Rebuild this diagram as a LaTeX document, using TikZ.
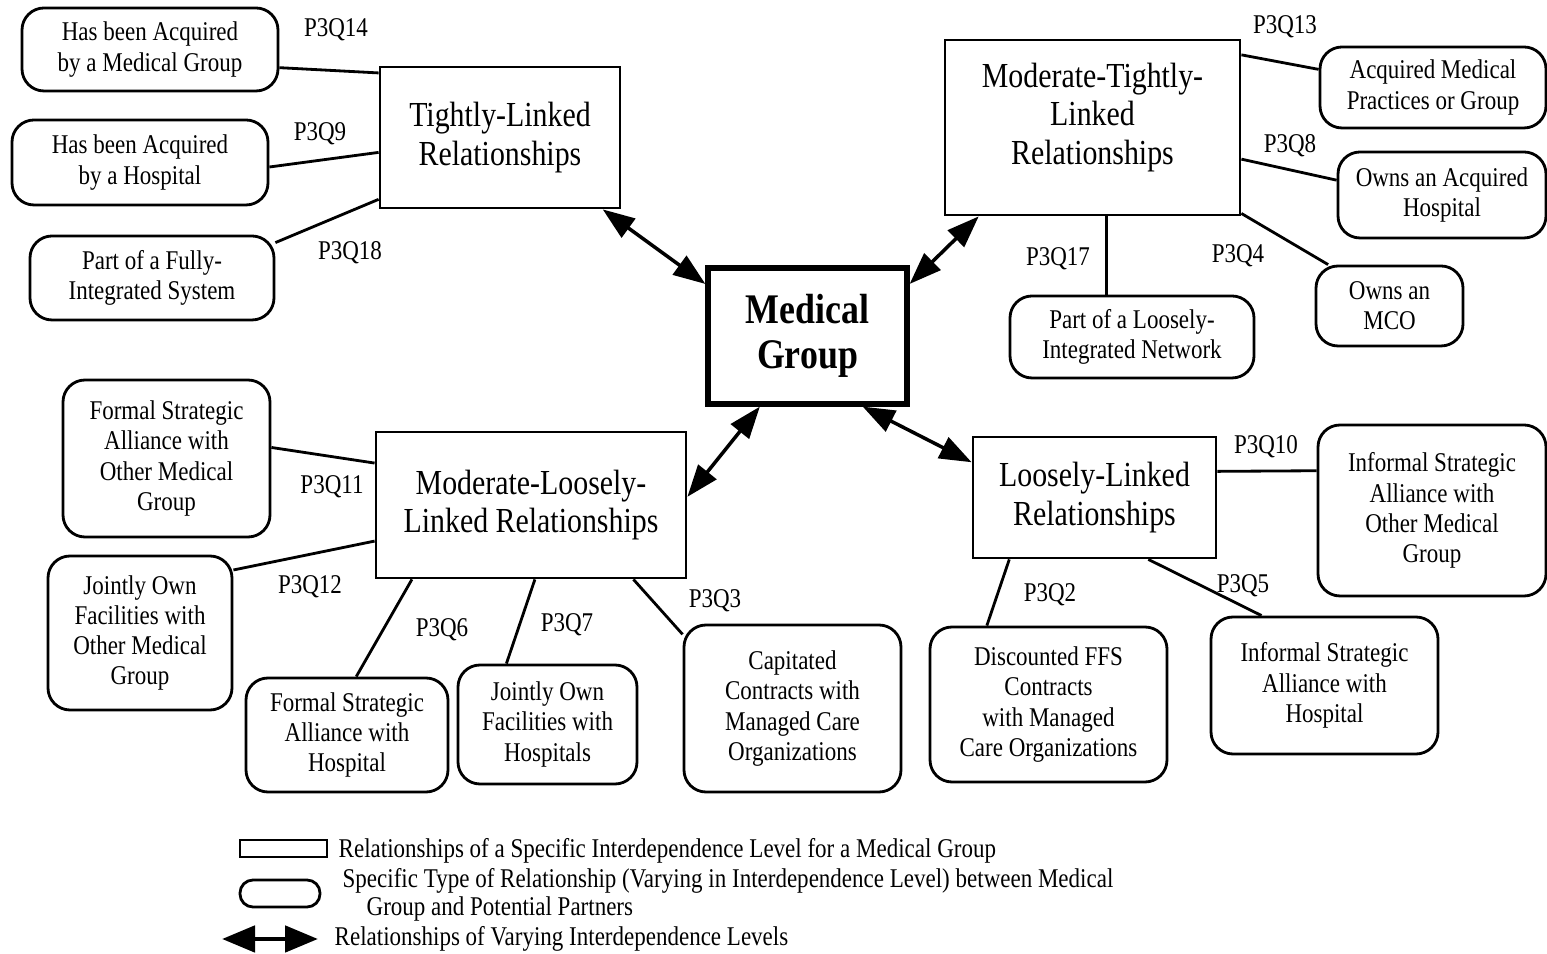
\documentclass[tikz,border=0pt]{standalone}
\usepackage{fontspec}
\setmainfont{Liberation Serif}[FakeStretch=0.85]
\usetikzlibrary{arrows.meta, calc}
\tikzset{
  relbox/.style={draw, line width=0.8pt, align=center, inner sep=0pt, font=\fontsize{10}{11}\selectfont},
  typebox/.style={draw, line width=0.8pt, rounded corners=2.2mm, align=center, inner sep=0pt, font=\fontsize{7.7}{8.6}\selectfont},
  link/.style={line width=0.8pt},
  twoway/.style={{Triangle[length=3.2mm,width=2.3mm]}-{Triangle[length=3.2mm,width=2.3mm]}, line width=1pt},
  qlabel/.style={font=\fontsize{7.7}{8.6}\selectfont, inner sep=0pt},
  legtext/.style={font=\fontsize{7.7}{8}\selectfont, inner sep=0pt, anchor=west}
}

\begin{document}
\begin{tikzpicture}
\useasboundingbox (0,0) rectangle (15.47,-9.54);

% relationship levels
\node[relbox, minimum width=2.40cm, minimum height=1.41cm] (tight) at (5.00,-1.375) {Tightly-Linked\\Relationships};
\node[relbox, minimum width=2.95cm, minimum height=1.75cm, text depth=0.28cm] (modtight) at (10.925,-1.275) {Moderate-Tightly-\\Linked\\Relationships};
\node[relbox, minimum width=1.99cm, minimum height=1.36cm, line width=1.5pt, font=\fontsize{12}{12.6}\selectfont\bfseries] (medgrp) at (8.075,-3.36) {Medical\\Group};
\node[relbox, minimum width=3.10cm, minimum height=1.46cm] (modloose) at (5.31,-5.05) {Moderate-Loosely-\\Linked Relationships};
\node[relbox, minimum width=2.43cm, minimum height=1.21cm] (loose) at (10.945,-4.975) {Loosely-Linked\\Relationships};

% types of relationship
\node[typebox, minimum width=2.56cm, minimum height=0.83cm] (acqmg) at (1.50,-0.495) {Has been Acquired\\by a Medical Group};
\node[typebox, minimum width=2.56cm, minimum height=0.85cm] (acqhosp) at (1.40,-1.625) {Has been Acquired\\by a Hospital};
\node[typebox, minimum width=2.44cm, minimum height=0.84cm] (fullint) at (1.52,-2.78) {Part of a Fully-\\Integrated System};
\node[typebox, minimum width=2.26cm, minimum height=0.81cm] (acqprac) at (14.33,-0.875) {Acquired Medical\\Practices or Group};
\node[typebox, minimum width=2.08cm, minimum height=0.86cm] (ownhosp) at (14.42,-1.95) {Owns an Acquired\\Hospital};
\node[typebox, minimum width=1.47cm, minimum height=0.80cm] (ownmco) at (13.895,-3.06) {Owns an\\MCO};
\node[typebox, minimum width=2.44cm, minimum height=0.82cm] (looseint) at (11.32,-3.37) {Part of a Loosely-\\Integrated Network};
\node[typebox, minimum width=2.07cm, minimum height=1.57cm] (fsamg) at (1.665,-4.585) {Formal Strategic\\Alliance with\\Other Medical\\Group};
\node[typebox, minimum width=1.84cm, minimum height=1.54cm] (jofmg) at (1.40,-6.33) {Jointly Own\\Facilities with\\Other Medical\\Group};
\node[typebox, minimum width=2.02cm, minimum height=1.14cm] (fsahosp) at (3.47,-7.35) {Formal Strategic\\Alliance with\\Hospital};
\node[typebox, minimum width=1.79cm, minimum height=1.19cm] (jofhosp) at (5.475,-7.245) {Jointly Own\\Facilities with\\Hospitals};
\node[typebox, minimum width=2.17cm, minimum height=1.67cm] (capcon) at (7.925,-7.085) {Capitated\\Contracts with\\Managed Care\\Organizations};
\node[typebox, minimum width=2.37cm, minimum height=1.55cm] (ffscon) at (10.485,-7.045) {Discounted FFS\\Contracts\\with Managed\\Care Organizations};
\node[typebox, minimum width=2.27cm, minimum height=1.37cm] (isahosp) at (13.245,-6.855) {Informal Strategic\\Alliance with\\Hospital};
\node[typebox, minimum width=2.28cm, minimum height=1.71cm] (isamg) at (14.32,-5.105) {Informal Strategic\\Alliance with\\Other Medical\\Group};

% links
\draw[link] (acqmg.-8) -- (tight.152);
\draw[link] (acqhosp.-2) -- (tight.187);
\draw[link] (fullint.16) -- (tight.207);
\draw[link] (acqprac.171) -- (modtight.26);
\draw[link] (ownhosp.172) -- (modtight.-12);
\draw[link] (ownmco.146) -- (modtight.-30);
\draw[link] (looseint.121) -- (looseint.121 |- modtight.south);
\draw[link] (fsamg.6) -- (modloose.165);
\draw[link] (jofmg.34) -- (modloose.193);
\draw[link] (fsahosp.81) -- (modloose.212);
\draw[link] (jofhosp.124) -- (modloose.273);
\draw[link] (capcon.146) -- (modloose.-36);
\draw[link] (ffscon.128) -- (loose.216);
\draw[link] (isahosp.132) -- (loose.-49);
\draw[link] (isamg.161) -- (loose.12);

\node[qlabel] at (3.36,-0.30) {P3Q14};
\node[qlabel] at (3.20,-1.34) {P3Q9};
\node[qlabel] at (3.50,-2.53) {P3Q18};
\node[qlabel] at (12.85,-0.27) {P3Q13};
\node[qlabel] at (12.90,-1.46) {P3Q8};
\node[qlabel] at (10.58,-2.59) {P3Q17};
\node[qlabel] at (12.38,-2.56) {P3Q4};
\node[qlabel] at (3.32,-4.87) {P3Q11};
\node[qlabel] at (3.10,-5.87) {P3Q12};
\node[qlabel] at (4.42,-6.30) {P3Q6};
\node[qlabel] at (5.67,-6.25) {P3Q7};
\node[qlabel] at (7.15,-6.01) {P3Q3};
\node[qlabel] at (10.50,-5.95) {P3Q2};
\node[qlabel] at (12.43,-5.86) {P3Q5};
\node[qlabel] at (12.66,-4.47) {P3Q10};

% two-way arrows to the medical group
\draw[twoway] (tight.-35) -- (medgrp.153);
\draw[twoway] (modtight.218) -- (medgrp.27);
\draw[twoway] (medgrp.236) -- (modloose.3);
\draw[twoway] (medgrp.-52) -- (loose.164);

% key
\node[draw, line width=0.6pt, minimum width=0.87cm, minimum height=0.17cm, inner sep=0pt] (keyrel) at (2.835,-8.485) {};
\node[legtext] (keyreltxt) at (3.38,-8.51) {Relationships of a Specific Interdependence Level for a Medical Group};
\node[draw, line width=0.8pt, rounded corners=1.3mm, minimum width=0.80cm, minimum height=0.27cm, inner sep=0pt] (keytype) at (2.80,-8.935) {};
\node[legtext, align=left] (keytypetxt) at (3.42,-8.95) {Specific Type of Relationship (Varying in Interdependence Level) between Medical\\\hspace*{2.4mm}Group and Potential Partners};
\coordinate (keyL) at (2.22,-9.39);
\coordinate (keyR) at (3.18,-9.39);
\draw[{Triangle[length=3.3mm,width=2.6mm]}-{Triangle[length=3.3mm,width=2.6mm]}, line width=1.4pt] (keyL) -- (keyR);
\node[legtext] (keyarrtxt) at (3.34,-9.39) {Relationships of Varying Interdependence Levels};

\end{tikzpicture}
\end{document}
